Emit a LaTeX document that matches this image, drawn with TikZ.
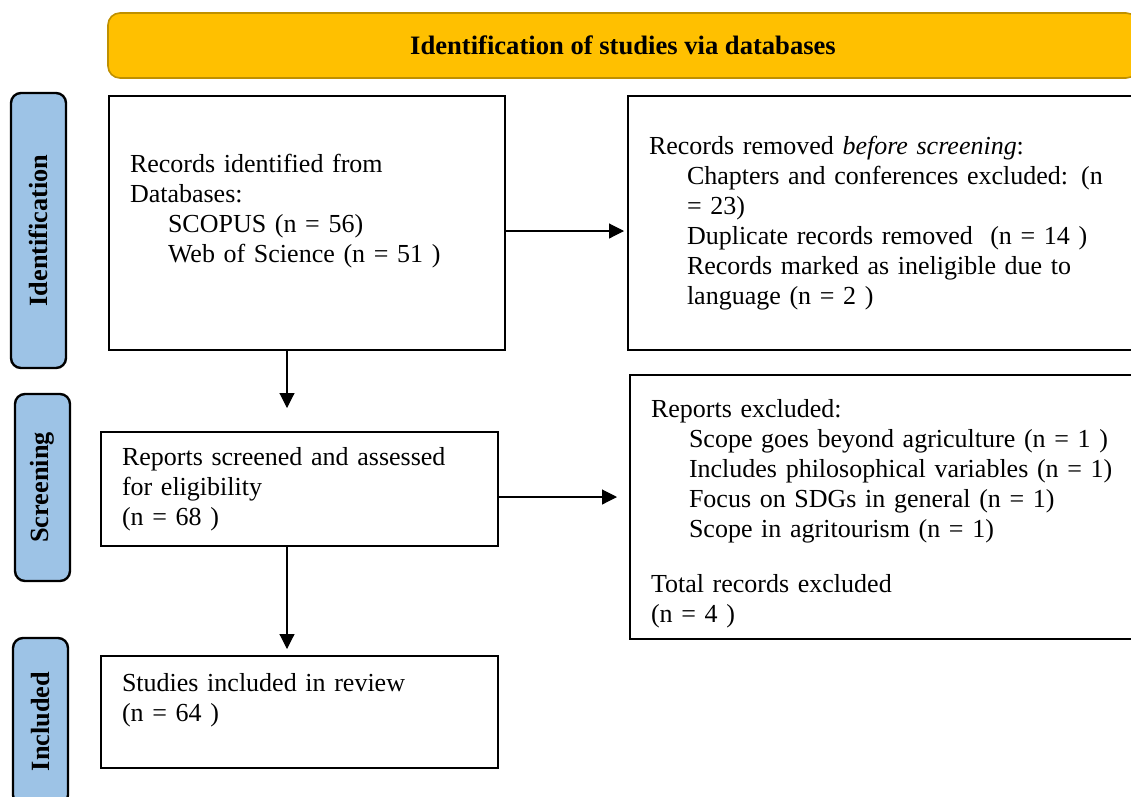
\documentclass[tikz,border=0pt]{standalone}
\usepackage{fontspec}
\setmainfont{Liberation Serif}
\usetikzlibrary{positioning,arrows.meta}
\definecolor{bannergold}{HTML}{FFC000}
\definecolor{bannerline}{HTML}{BF9000}
\definecolor{stageblue}{HTML}{9DC3E6}
\tikzset{
every picture/.style={
line width=1.4pt
}}
\newcommand{\ind}{\hspace*{38pt}}

\begin{document}
\begin{tikzpicture}[x=1pt, y=-1pt,
font=\fontsize{26}{30}\selectfont,
block/.style = {rectangle, draw=black, line width=2pt, align=left, anchor=north west, inner xsep=21pt, inner ysep=0pt},
stage/.style = {rectangle, rounded corners=10pt, draw=black, line width=2.4pt, fill=stageblue, rotate=90, minimum height=55pt, font=\fontsize{26.3}{30}\selectfont\bfseries},
banner/.style = {rectangle, rounded corners=12pt, draw=bannerline, line width=1.6pt, fill=bannergold, font=\fontsize{26.6}{30}\selectfont\bfseries},
arr/.style = {-{Triangle[length=15pt, width=15pt]}, line width=1.1pt}]
\useasboundingbox (0,0) rectangle (1131,796);
\clip (0,0) rectangle (1131,796);

\node[banner, minimum width=1030pt, minimum height=65pt] (head) at (623,45.5) {Identification of studies via databases};

\node[stage, minimum width=275pt] (idn) at (38.5,230.5) {Identification};
\node[stage, minimum width=187pt] (scn) at (42.5,487.5) {Screening};
\node[stage, minimum width=167pt] (inl) at (40.5,721.5) {Included};

\node[block, minimum width=396pt, minimum height=254pt, text width=354pt] (rec) at (108,95) {Records identified from\\ Databases:\\ \ind SCOPUS (n = 56)\\ \ind Web of Science (n = 51 )\\ \mbox{}};
\node[block, minimum width=553pt, minimum height=254pt, text width=511pt] (rem) at (627,95) {Records removed \textit{before screening}:\\ \ind Chapters and conferences excluded: (n\\ \ind = 23)\\ \ind Duplicate records removed\ \ (n = 14 )\\ \ind Records marked as ineligible due to\\ \ind language (n = 2 )};
\node[block, minimum width=397pt, minimum height=114pt, text width=355pt] (scr) at (100,431) {Reports screened and assessed\\ for eligibility\\ (n = 68 )};
\node[block, minimum width=551pt, minimum height=264pt, text width=509pt] (exc) at (629,374) {\mbox{}\\[2pt] Reports excluded:\\ \ind Scope goes beyond agriculture (n = 1 )\\ \ind Includes philosophical variables (n = 1)\\ \ind Focus on SDGs in general (n = 1)\\ \ind Scope in agritourism (n = 1)\\[25pt] Total records excluded\\ (n = 4 )};
\node[block, minimum width=397pt, minimum height=112pt, text width=355pt] (inc) at (100,655) {Studies included in review\\ (n = 64 )\\ \mbox{}};

\coordinate (col) at (287,0);
\coordinate (row1) at (0,231);
\coordinate (row2) at (0,497);

\draw[arr, shorten >=3pt] (rec.east |- row1) -- (rem.west |- row1);
\draw[arr, shorten >=23pt] (rec.south -| col) -- (scr.north -| col);
\draw[arr, shorten >=12pt] (scr.east |- row2) -- (exc.west |- row2);
\draw[arr, shorten >=6pt] (scr.south -| col) -- (inc.north -| col);
\end{tikzpicture}
\end{document}
